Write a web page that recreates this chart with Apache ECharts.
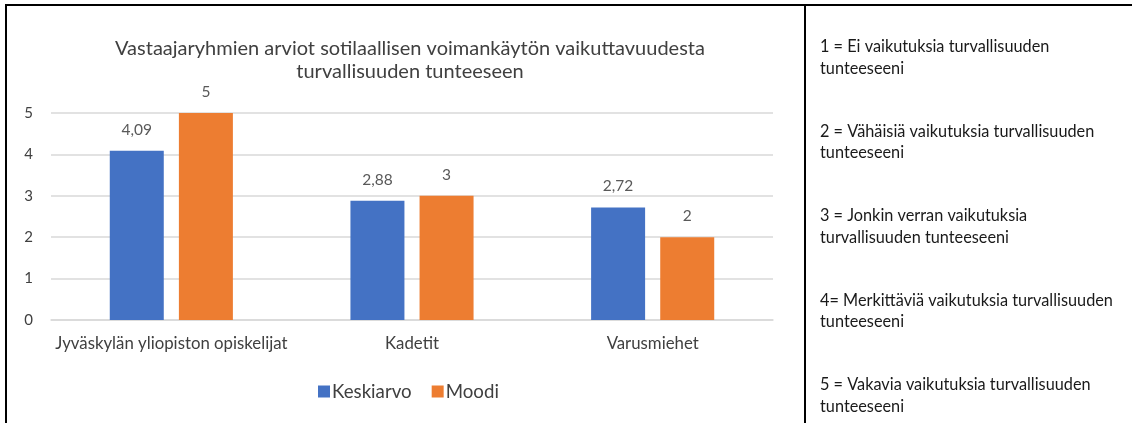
<!DOCTYPE html>
<html>
<head>
<meta charset="utf-8">
<script src="https://cdn.jsdelivr.net/npm/echarts@6/dist/echarts.min.js"></script>
<style>
  html, body { margin: 0; padding: 0; background: #fff; }
  #main { width: 1132px; height: 423px; }
</style>
</head>
<body>
<div id="main"></div>
<script>
// 数据
var ryhmat = ['Jyväskylän yliopiston opiskelijat', 'Kadetit', 'Varusmiehet'];
var keskiarvo = [4.09, 2.88, 2.72];
var moodi = [5, 3, 2];
var selitteet = [
  '1 = Ei vaikutuksia turvallisuuden\ntunteeseeni',
  '2 = Vähäisiä vaikutuksia turvallisuuden\ntunteeseeni',
  '3 = Jonkin verran vaikutuksia\nturvallisuuden tunteeseeni',
  '4= Merkittäviä vaikutuksia turvallisuuden\ntunteeseeni',
  '5 = Vakavia vaikutuksia turvallisuuden\ntunteeseeni'
];

var myChart = echarts.init(document.getElementById('main'));
var fontName = 'Lato';

function pilkku(p) {
  return String(p.value).replace('.', ',');
}

// 边框和右侧说明文字
var graphics = [
  { type: 'rect', shape: { x: 6, y: 5, width: 799, height: 440 },
    style: { fill: 'none', stroke: '#000', lineWidth: 2 } },
  { type: 'line', shape: { x1: 805, y1: 5, x2: 1132, y2: 5 },
    style: { stroke: '#000', lineWidth: 2 } }
];
for (var i = 0; i < selitteet.length; i++) {
  graphics.push({
    type: 'text', left: 820, top: 36 + i * 84.5,
    style: { text: selitteet[i], fill: '#1a1a1a', font: '16.3px ' + fontName, lineHeight: 21.5 }
  });
}

myChart.setOption({
  animation: false,
  textStyle: { fontFamily: fontName },
  title: {
    text: 'Vastaajaryhmien arviot sotilaallisen voimankäytön vaikuttavuudesta\nturvallisuuden tunteeseen',
    left: 405, top: 32, textAlign: 'center',
    textStyle: { fontSize: 20, fontWeight: 'normal', color: '#404040', lineHeight: 23 }
  },
  grid: { left: 51, right: 359, top: 113, bottom: 103 },
  legend: {
    data: ['Keskiarvo', 'Moodi'],
    left: 313, top: 377,
    itemWidth: 12, itemHeight: 12, itemGap: 20, icon: 'rect',
    textStyle: { fontSize: 18.7, color: '#404040', padding: [0, 0, 0, -3] }
  },
  xAxis: {
    type: 'category', data: ryhmat,
    axisLine: { lineStyle: { color: '#d9d9d9', width: 1.5 } },
    axisTick: { show: false },
    axisLabel: { fontSize: 16.8, color: '#404040', margin: 15, interval: 0 }
  },
  yAxis: {
    type: 'value', min: 0, max: 5, interval: 1,
    axisLabel: { fontSize: 15, color: '#404040', margin: 18 },
    splitLine: { lineStyle: { color: '#d9d9d9', width: 1.5 } }
  },
  series: [{
    name: 'Keskiarvo', type: 'bar', data: keskiarvo,
    barWidth: 54, barGap: '28%',
    itemStyle: { color: '#4472c4' },
    label: { show: true, position: 'top', distance: 13, fontSize: 15.5, color: '#595959', formatter: pilkku }
  }, {
    name: 'Moodi', type: 'bar', data: moodi,
    barWidth: 54,
    itemStyle: { color: '#ed7d31' },
    label: { show: true, position: 'top', distance: 13, fontSize: 15.5, color: '#595959', formatter: pilkku }
  }],
  graphic: graphics
});
</script>
</body>
</html>
